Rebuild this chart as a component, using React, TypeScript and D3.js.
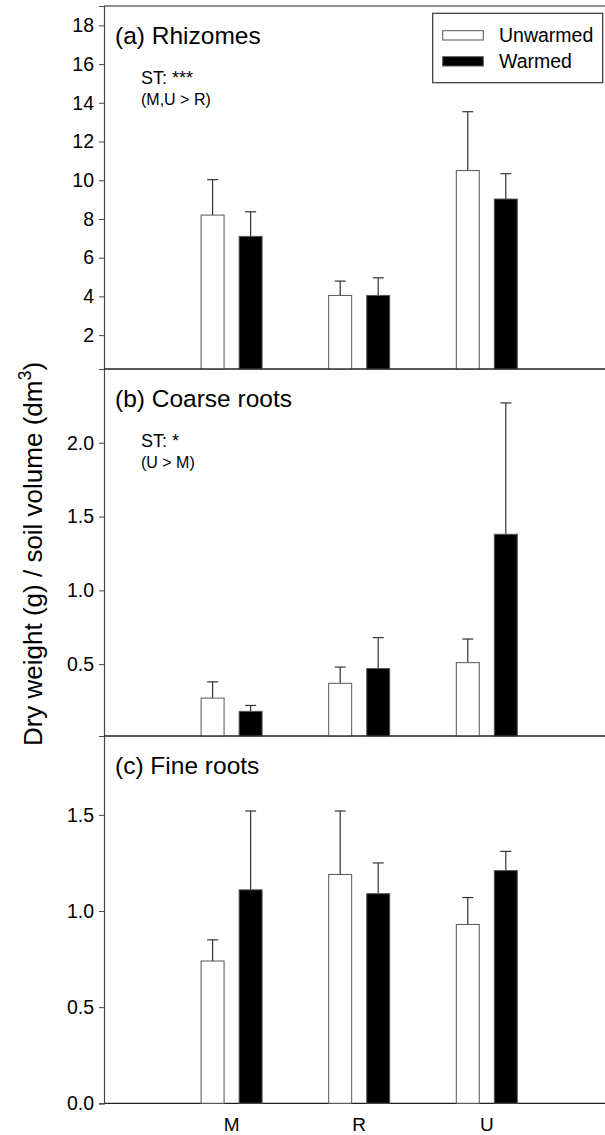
import React, { useRef, useEffect } from 'react';
import * as d3 from 'd3';

const CATEGORIES = ['M', 'R', 'U'];

// (a) Rhizomes
const RHIZ_UNWARMED = [8.2, 4.05, 10.5];
const RHIZ_UNWARMED_SE = [1.83, 0.74, 3.04];
const RHIZ_WARMED = [7.1, 4.05, 9.03];
const RHIZ_WARMED_SE = [1.27, 0.91, 1.31];

// (b) Coarse roots
const COARSE_UNWARMED = [0.27, 0.37, 0.51];
const COARSE_UNWARMED_SE = [0.11, 0.11, 0.16];
const COARSE_WARMED = [0.18, 0.47, 1.38];
const COARSE_WARMED_SE = [0.04, 0.21, 0.89];

// (c) Fine roots
const FINE_UNWARMED = [0.74, 1.19, 0.93];
const FINE_UNWARMED_SE = [0.11, 0.33, 0.14];
const FINE_WARMED = [1.11, 1.09, 1.21];
const FINE_WARMED_SE = [0.41, 0.16, 0.10];

const RHIZ_TICKS = [2, 4, 6, 8, 10, 12, 14, 16, 18];
const COARSE_TICKS = [0.5, 1.0, 1.5, 2.0];
const FINE_TICKS = [0.0, 0.5, 1.0, 1.5];

const SERIES = ['Unwarmed', 'Warmed'];

const W = 605;
const H = 1135;
const FONT = 'Arial, "Liberation Sans", Helvetica, sans-serif';

export default function App() {
  const ref = useRef<SVGSVGElement | null>(null);

  useEffect(() => {
    if (!ref.current) return;
    const svg = d3.select(ref.current);
    svg.selectAll('*').remove();

    const left = 104;
    const x = d3.scaleLinear().domain([0, 4]).range([left, 614.4]);
    const xPos = (i: number) => i + 1;
    const offset = 0.149;
    const barW = x(0.18) - x(0);
    const capW = 11;

    const panels = [
      {
        title: '(a) Rhizomes', st: 'ST: ***', post: '(M,U > R)',
        top: 6, bottom: 369, domain: [0.25, 19],
        ticks: RHIZ_TICKS, fmt: (d: number) => d3.format('d')(d),
        unw: RHIZ_UNWARMED, unwSe: RHIZ_UNWARMED_SE, w: RHIZ_WARMED, wSe: RHIZ_WARMED_SE,
      },
      {
        title: '(b) Coarse roots', st: 'ST: *', post: '(U > M)',
        top: 369, bottom: 736, domain: [0.013, 2.5],
        ticks: COARSE_TICKS, fmt: (d: number) => d3.format('.1f')(d),
        unw: COARSE_UNWARMED, unwSe: COARSE_UNWARMED_SE, w: COARSE_WARMED, wSe: COARSE_WARMED_SE,
      },
      {
        title: '(c) Fine roots', st: null, post: null,
        top: 736, bottom: 1103.3, domain: [0, 1.91],
        ticks: FINE_TICKS, fmt: (d: number) => d3.format('.1f')(d),
        unw: FINE_UNWARMED, unwSe: FINE_UNWARMED_SE, w: FINE_WARMED, wSe: FINE_WARMED_SE,
      },
    ];

    svg.append('rect').attr('width', W).attr('height', H).attr('fill', '#fff');

    panels.forEach((p) => {
      const y = d3.scaleLinear().domain(p.domain).range([p.bottom, p.top]);
      const g = svg.append('g');

      // frame lines
      g.append('line')
        .attr('x1', left).attr('x2', W + 10)
        .attr('y1', p.top).attr('y2', p.top)
        .attr('stroke', '#222').attr('stroke-width', 1.2);
      g.append('line')
        .attr('x1', left).attr('x2', W + 10)
        .attr('y1', p.bottom).attr('y2', p.bottom)
        .attr('stroke', '#222').attr('stroke-width', 1.2);

      // y axis
      g.append('g')
        .attr('transform', `translate(${left},0)`)
        .call(d3.axisLeft(y).tickValues(p.ticks).tickFormat(p.fmt as any).tickSize(5).tickPadding(5))
        .call((ax) => ax.select('.domain').attr('stroke', '#444').attr('stroke-width', 1.2))
        .call((ax) => ax.selectAll('.tick line').attr('stroke', '#444'))
        .call((ax) => ax.selectAll('.tick text')
          .attr('fill', '#000')
          .attr('font-size', '19.5px')
          .attr('font-family', FONT));

      // bars
      const groups = [
        { vals: p.unw, se: p.unwSe, dx: -offset, fill: '#fff' },
        { vals: p.w, se: p.wSe, dx: offset, fill: '#000' },
      ];
      groups.forEach((s) => {
        s.vals.forEach((v, i) => {
          const cx = x(xPos(i) + s.dx);
          const yTop = y(v);
          const yErr = y(v + s.se[i]);
          g.append('line')
            .attr('x1', cx).attr('x2', cx)
            .attr('y1', yTop).attr('y2', yErr)
            .attr('stroke', '#333').attr('stroke-width', 1.2);
          g.append('line')
            .attr('x1', cx - capW / 2).attr('x2', cx + capW / 2)
            .attr('y1', yErr).attr('y2', yErr)
            .attr('stroke', '#333').attr('stroke-width', 1.2);
          g.append('rect')
            .attr('x', cx - barW / 2).attr('y', yTop)
            .attr('width', barW).attr('height', p.bottom - yTop)
            .attr('fill', s.fill)
            .attr('stroke', '#555').attr('stroke-width', 1);
        });
      });

      // titles
      g.append('text')
        .attr('x', 115).attr('y', p.top + 38)
        .attr('font-size', '24.5px').attr('font-family', FONT)
        .text(p.title);
      if (p.st) {
        g.append('text')
          .attr('x', 141).attr('y', p.top + 78)
          .attr('font-size', '18px').attr('font-family', FONT)
          .text(p.st);
      }
      if (p.post) {
        g.append('text')
          .attr('x', 141).attr('y', p.top + 99)
          .attr('font-size', '16px').attr('font-family', FONT)
          .text(p.post);
      }
    });

    // x labels
    const xl = svg.append('g');
    CATEGORIES.forEach((c, i) => {
      xl.append('text')
        .attr('x', x(xPos(i))).attr('y', 1131)
        .attr('text-anchor', 'middle')
        .attr('font-size', '19px').attr('font-family', FONT)
        .text(c);
    });

    // y label
    const yl = svg.append('text')
      .attr('transform', `translate(41.5,${554}) rotate(-90)`)
      .attr('text-anchor', 'middle')
      .attr('font-size', '26px').attr('font-family', FONT);
    yl.append('tspan').text('Dry weight (g) / soil volume (dm');
    yl.append('tspan').attr('dy', -11).attr('font-size', '18px').text('3');
    yl.append('tspan').attr('dy', 11).text(')');

    // legend
    const lg = svg.append('g');
    lg.append('rect')
      .attr('x', 432.7).attr('y', 13.3).attr('width', 170).attr('height', 69.4)
      .attr('fill', '#fff').attr('stroke', '#333').attr('stroke-width', 1.2);
    SERIES.forEach((s, i) => {
      const yy = 30.7 + i * 26;
      lg.append('rect')
        .attr('x', 442.7).attr('y', yy).attr('width', 40.6).attr('height', 9.3)
        .attr('fill', i === 0 ? '#fff' : '#000')
        .attr('stroke', '#555').attr('stroke-width', 1);
      lg.append('text')
        .attr('x', 499).attr('y', yy + 11.6)
        .attr('font-size', '19.5px').attr('font-family', FONT)
        .text(s);
    });
  }, []);

  return (
    <div style={{ position: 'absolute', left: 0, top: 0 }}>
      <svg ref={ref} width={W} height={H} style={{ display: 'block' }} />
    </div>
  );
}
